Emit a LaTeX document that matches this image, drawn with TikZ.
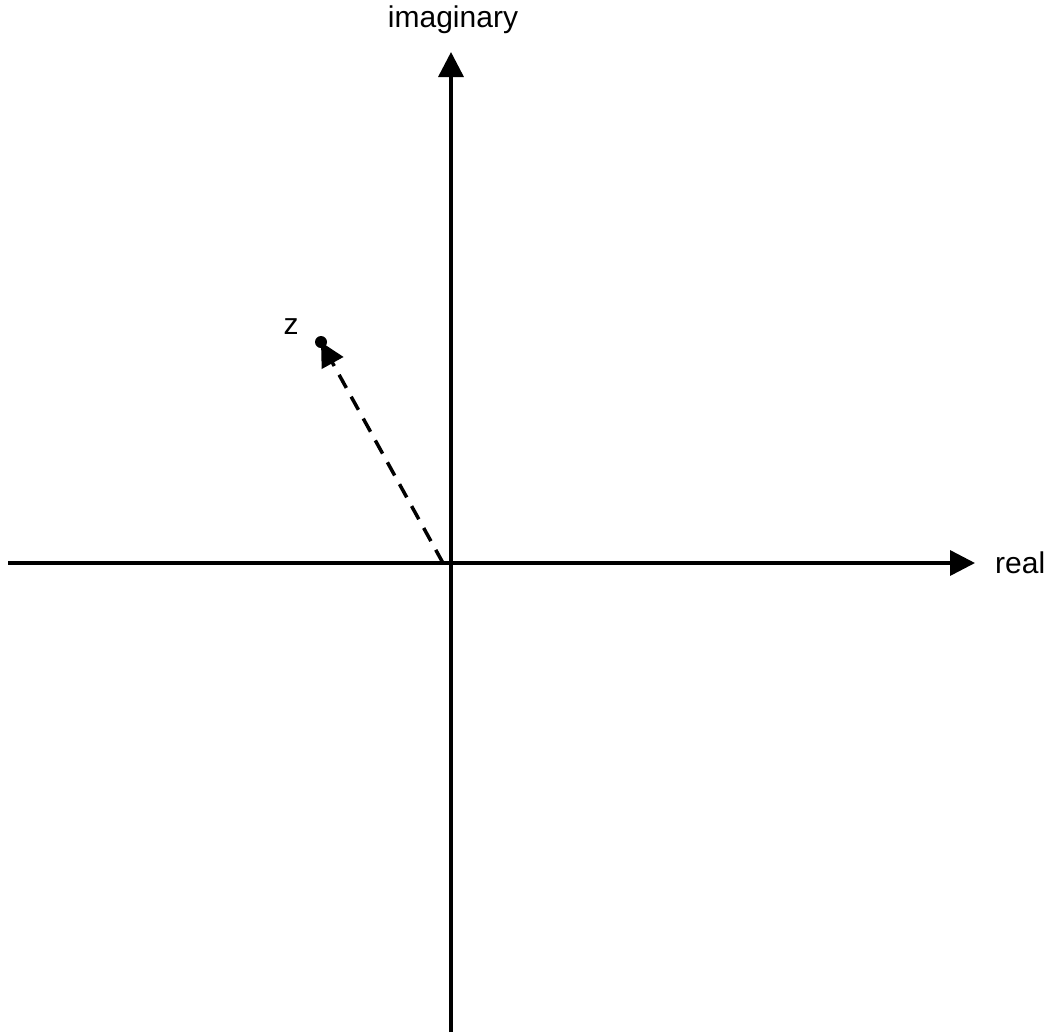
\documentclass[tikz,border=0pt]{standalone}
\usepackage{fontspec}
\setmainfont{Liberation Sans}
\usetikzlibrary{arrows.meta}
\begin{document}
\begin{tikzpicture}[x=1pt,y=-1pt,
  axis/.style={line width=3.5pt,-{Triangle[length=25pt,width=25pt]}},
  vec/.style={line width=3.5pt,dash pattern=on 15pt off 10pt,-{Triangle[length=24pt,width=24pt]}},
  lbl/.style={font=\fontsize{30}{36}\selectfont,inner sep=0pt}]
\useasboundingbox (0,0) rectangle (1056,1034);
\coordinate (xl) at (8,563);
\coordinate (xr) at (975,563);
\coordinate (yb) at (451,1032);
\coordinate (yt) at (451,52);
\coordinate (o) at (443,563);
\coordinate (z) at (321,342);
\draw[axis] (xl) -- (xr);
\draw[axis] (yb) -- (yt);
\draw[vec] (o) -- (z);
\fill (z) circle (6pt);
\node[lbl] (zl) at (291,327) {z};
\node[lbl] (il) at (453,20) {imaginary};
\node[lbl,anchor=west] (rl) at (995,563) {real};
\end{tikzpicture}
\end{document}
